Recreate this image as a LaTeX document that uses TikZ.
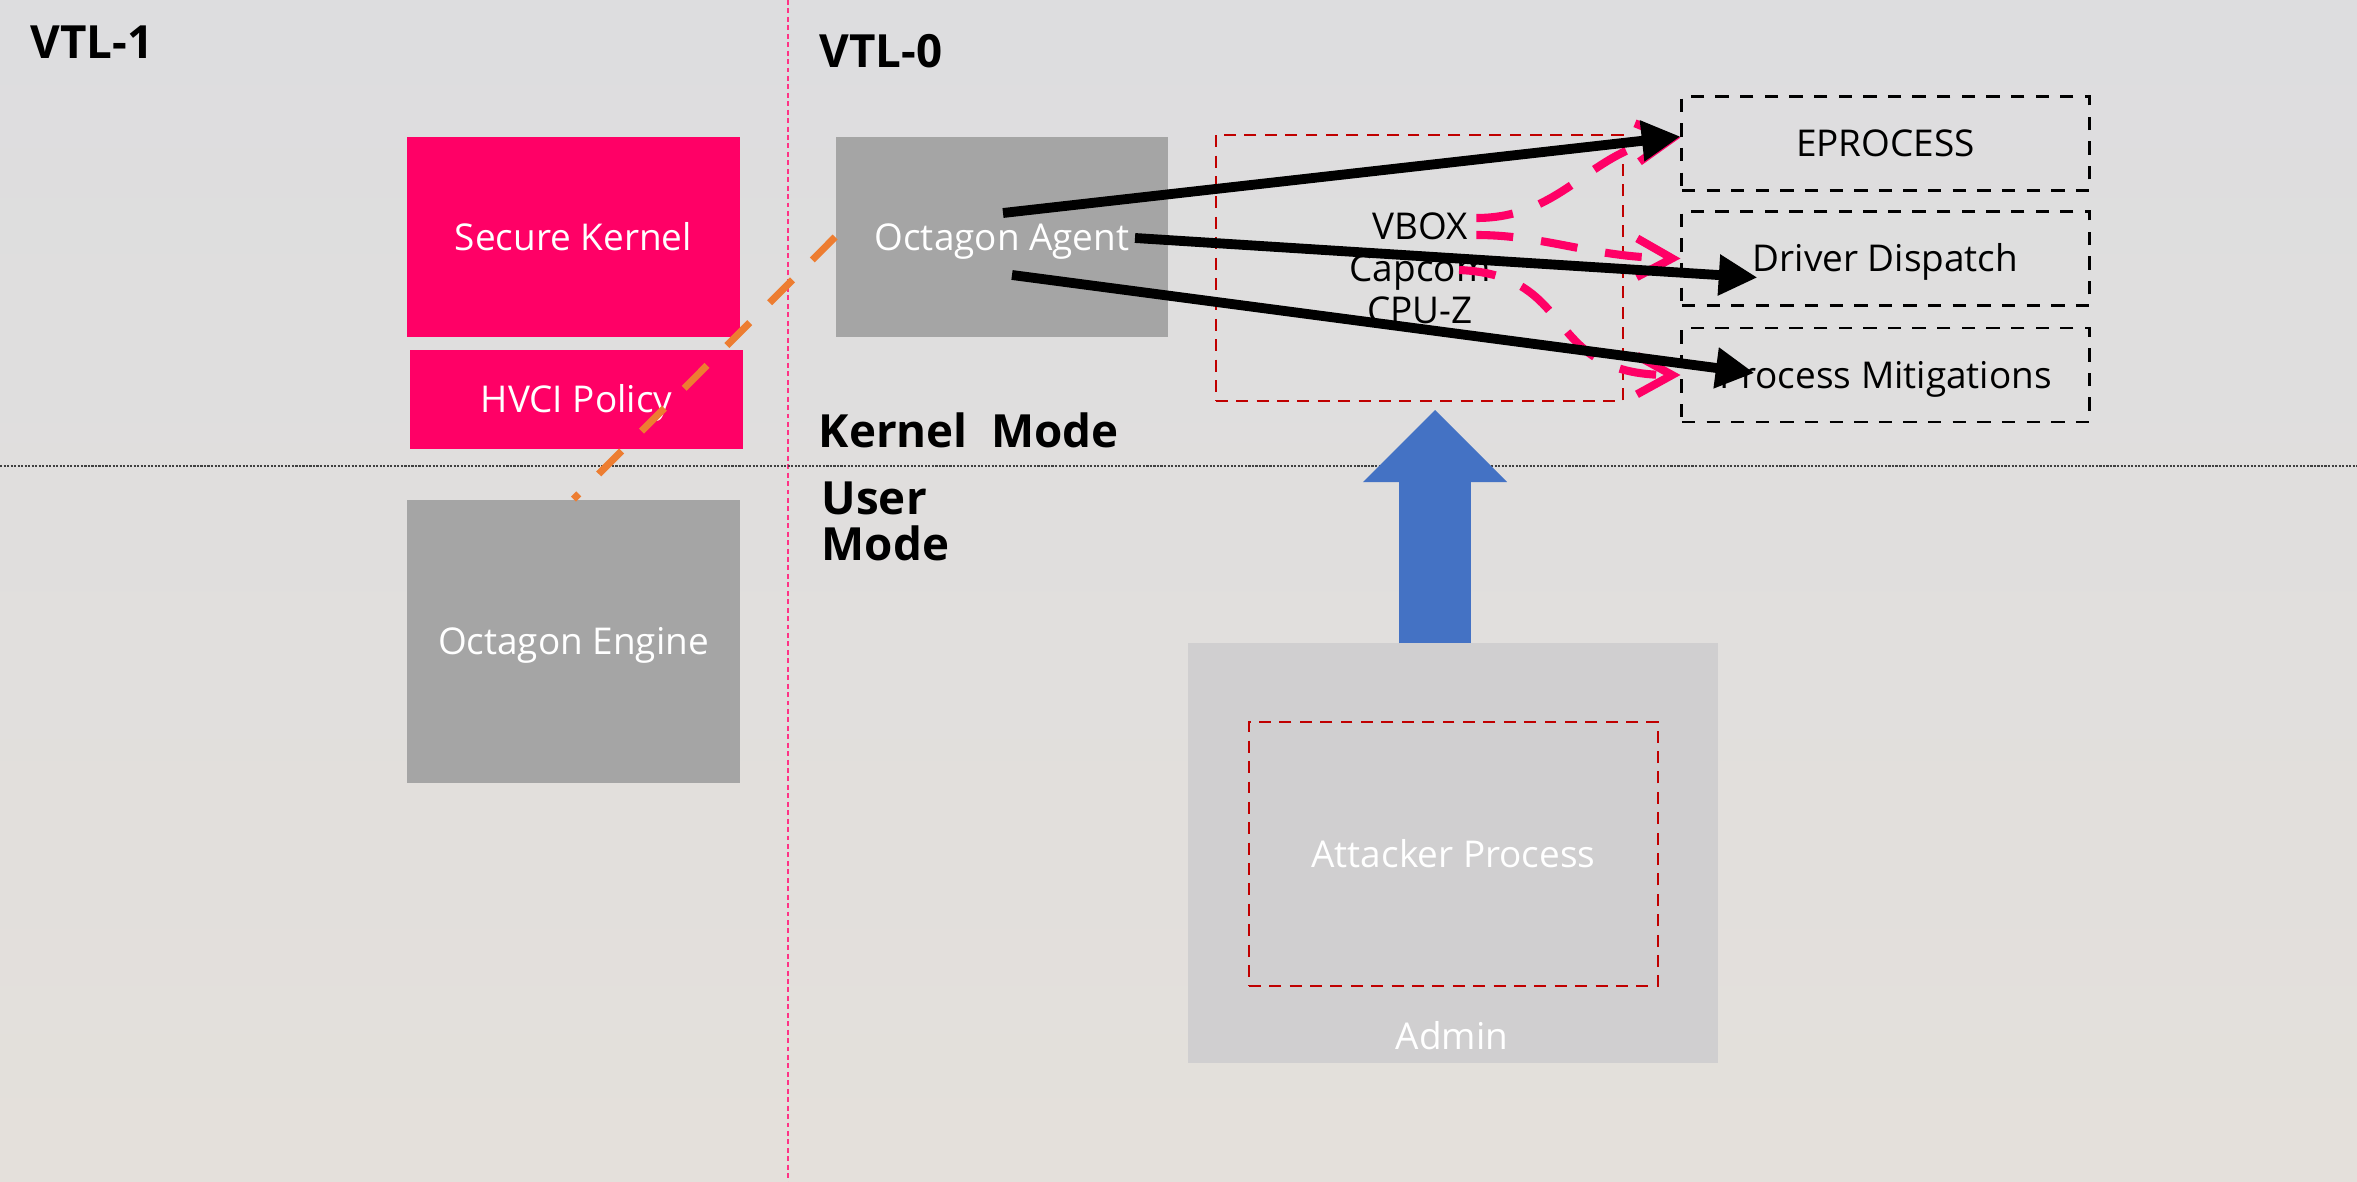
\documentclass[tikz,border=0pt]{standalone}
\usepackage{fontspec}
\setmainfont{Open Sans}
\usetikzlibrary{arrows.meta,positioning,calc}

\definecolor{hvpink}{HTML}{FF0066}
\definecolor{boxgray}{HTML}{A5A5A5}
\definecolor{admingray}{HTML}{D0CFD0}
\definecolor{dashred}{HTML}{C00000}
\definecolor{leakorange}{HTML}{ED7D31}
\definecolor{upblue}{HTML}{4472C4}
\definecolor{bgtop}{HTML}{DDDDDF}
\definecolor{bgbot}{HTML}{E4E0DB}

\newcommand{\boxfont}{\fontsize{10.5}{12.5}\selectfont}

\begin{document}
\begin{tikzpicture}[
        x=0.01cm, y=-0.01cm,
        pinkbox/.style={fill=hvpink, text=white, inner sep=0pt, minimum width=3.33cm, text height=7.5pt, text depth=0pt, font=\boxfont},
        greybox/.style={fill=boxgray, text=white, inner sep=0pt, text height=7.5pt, text depth=0pt, font=\boxfont},
        target/.style={draw=black, dash pattern=on 3.8pt off 3.2pt, line width=0.8pt, minimum width=4.07cm, minimum height=0.94cm, inner sep=0pt, text height=7.5pt, text depth=0pt, font=\boxfont},
        redring/.style={draw=dashred, dash pattern=on 3.4pt off 2.4pt, line width=0.6pt, inner sep=0pt, text height=7.5pt, text depth=0pt, font=\boxfont},
        plain/.style={inner sep=0pt, text height=7.5pt, text depth=0pt, font=\boxfont},
        lbl/.style={inner sep=0pt, anchor=west, align=left, font=\bfseries\fontsize{13}{13.1}\selectfont},
        hook/.style={line width=2.8pt, -{Triangle[length=11pt,width=11pt]}},
        tamper/.style={hvpink, line width=2.3pt, dash pattern=on 10.5pt off 8pt, -{Straight Barb[length=10pt,width=11pt]}},
        leak/.style={leakorange, line width=2pt, dash pattern=on 9.2pt off 8pt},
        uparrow/.style={upblue, line width=20.2pt, -{Triangle[length=20.5pt,width=41pt,line width=0pt]}}
    ]

        \useasboundingbox (0,0) rectangle (2357,1182);
        \shade[top color=bgtop, bottom color=bgbot] (0,0) rectangle (2357,1182);

        % VTL split and kernel/user split
        \draw[hvpink!80, line width=0.3pt, dash pattern=on 1.4pt off 1pt] (788,0) -- (788,1182);
        \draw[black!75, line width=0.3pt, dash pattern=on 0.6pt off 0.4pt] (0,466) -- (2357,466);

        % VTL-1
        \node[lbl] (vtl1) at (30,42) {VTL-1};
        \node[pinkbox, minimum height=2cm] (sk) at (573.5,237) {Secure Kernel};
        \node[pinkbox, minimum height=0.99cm] (hvci) at (576.5,399.5) {HVCI Policy};
        \node[greybox, minimum width=3.33cm, minimum height=2.83cm] (engine) at (573.5,641.5) {Octagon Engine};

        % VTL-0
        \node[lbl] (vtl0) at (819,51) {VTL-0};
        \node[greybox, minimum width=3.32cm, minimum height=2cm] (agent) at (1002,237) {Octagon Agent};
        \node[lbl] (kmode) at (818,430) {Kernel~ Mode};
        \node[lbl] (umode) at (821,521) {User\\Mode};

        % vulnerable drivers
        \node[redring, minimum width=4.07cm, minimum height=2.66cm] (ring) at (1419.5,268) {};
        \node[plain] (vbox) at (1420,226) {VBOX};
        \node[plain] (capcom) at (1420,268) {Capcom};
        \node[plain] (cpuz) at (1420,310) {CPU-Z};

        \node[target] (ep) at (1885.5,143.5) {EPROCESS};
        \node[target] (dd) at (1885.5,258.5) {Driver Dispatch};
        \node[target] (pm) at (1885.5,375) {Process Mitigations};

        % admin
        \node[fill=admingray, minimum width=5.3cm, minimum height=4.2cm] (admin) at (1453,853) {};
        \node[redring, text=white, minimum width=4.09cm, minimum height=2.64cm] (attacker) at (1453.5,854) {Attacker Process};
        \node[plain, text=white] (adminlbl) at (1452,1036) {Admin};

        \coordinate (upfoot) at (1435,643);
        \coordinate (uptip) at (1435,410);
        \draw[uparrow] (upfoot) -- (uptip);

        \draw[leak] (agent.west) -- (engine.north);

        \draw[tamper] ($(vbox.east)+(8,-8)$) .. controls (1565,218) and (1590,148) .. ($(ep.west)+(0,-6)$);
        \draw[tamper] ($(vbox.east)+(8,9)$) .. controls (1545,235) and (1590,257) .. (dd.west);
        \draw[tamper] ($(capcom.east)+(-32,2)$) .. controls (1580,275) and (1540,375) .. (pm.west);

        \coordinate (hookA) at ($(agent.center)+(1,-24)$);
        \coordinate (hookB) at ($(agent.center)+(133,1)$);
        \coordinate (hookC) at ($(agent.center)+(10,38)$);
        \coordinate (epTip) at ($(ep.west)+(0,-7)$);
        \coordinate (ddTip) at ($(dd.west)+(77,19)$);
        \coordinate (pmTip) at ($(pm.west)+(74,-2)$);
        \draw[hook] (hookA) -- (epTip);
        \draw[hook] (hookB) -- (ddTip);
        \draw[hook] (hookC) -- (pmTip);

    \end{tikzpicture}
\end{document}
